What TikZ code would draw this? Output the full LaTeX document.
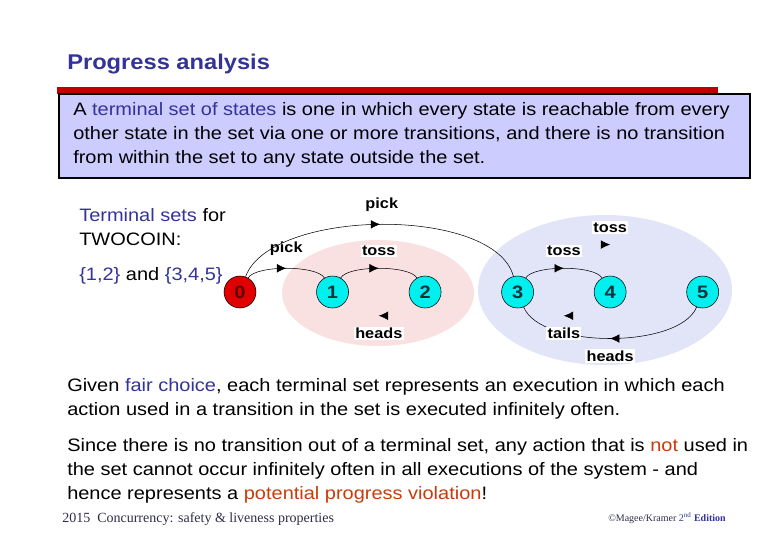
\documentclass[tikz,border=0pt]{standalone}
\usepackage{fontspec}
\setmainfont{Liberation Sans}[FakeStretch=1.11]
\newfontfamily\footfont{Liberation Serif}
\usetikzlibrary{arrows.meta,positioning,decorations.markings}

\definecolor{slideblue}{RGB}{51,51,153}
\definecolor{warnred}{RGB}{200,60,10}
\definecolor{barred}{RGB}{192,0,0}
\definecolor{boxlav}{RGB}{204,204,255}
\definecolor{setpink}{RGB}{249,225,225}
\definecolor{setblue}{RGB}{226,228,248}
\definecolor{statecyan}{RGB}{0,240,240}
\definecolor{statered}{RGB}{225,0,0}
\definecolor{footgrey}{RGB}{45,45,70}

\newcommand{\hlb}[1]{\textcolor{slideblue}{#1}}
\newcommand{\hlr}[1]{\textcolor{warnred}{#1}}

\begin{document}
\begin{tikzpicture}[x=0.75pt, y=-0.75pt, >=Latex,
  txt/.style={inner sep=0pt, align=left, font=\fontsize{13.5}{18}\selectfont},
  state/.style={draw, circle, minimum size=24pt, inner sep=0pt, fill=statecyan,
    text={rgb,255:red,0;green,50;blue,60}, font=\fontsize{13.5}{14}\selectfont\bfseries},
  lbl/.style={fill=white, inner sep=1pt, font=\fontsize{11}{12}\selectfont\bfseries},
  trans/.style={postaction={decorate}, decoration={markings,
    mark=at position 0.5 with {\arrow{Latex[length=7pt,width=6.5pt]}}}},
  faded/.style={trans, draw=none}]
  \useasboundingbox (0,0) rectangle (780,540);

  % heading and definition box
  \node[anchor=west, inner sep=0pt, text=slideblue, font=\fontsize{16}{18}\selectfont\bfseries]
    (title) at (67,64) {Progress analysis};
  \fill[barred] (57,87) rectangle (718,94);
  \draw[fill=boxlav, line width=1.1pt] (59,94) rectangle (750,178);
  \node[txt, anchor=west] (defn) at (73,135)
    {A \hlb{terminal set of states} is one in which every state is reachable from every\\
     other state in the set via one or more transitions, and there is no transition\\
     from within the set to any state outside the set.};

  % terminal sets of TWOCOIN
  \node[txt, anchor=west] (sets) at (79,227) {\hlb{Terminal sets} for\\TWOCOIN:};
  \node[txt, anchor=west] (setlist) at (79,276) {\hlb{\{1,2\}} and \hlb{\{3,4,5\}}};

  \fill[setpink] (378,293) ellipse [x radius=96, y radius=53];
  \fill[setblue] (605,290) ellipse [x radius=127, y radius=75];

  \node[state, fill=statered, text={rgb,255:red,90;green,0;blue,0}] (s0) at (240,292) {0};
  \node[state, right=45pt of s0] (s1) {1};
  \node[state, right=45pt of s1] (s2) {2};
  \node[state, right=45pt of s2] (s3) {3};
  \node[state, right=45pt of s3] (s4) {4};
  \node[state, right=45pt of s4] (s5) {5};

  \draw[trans] (s0) to[out=60, in=120, looseness=0.5] node[lbl, above=8pt] {pick} (s1);
  \draw[trans] (s0) to[out=70, in=105, looseness=0.7] node[lbl, above=8pt] {pick} (s3);
  \draw[trans] (s1) to[out=60, in=120, looseness=0.5] node[lbl, above=8pt] {toss} (s2);
  \draw[faded] (s2) to[out=-120, in=-60, looseness=0.5] node[lbl, below=8pt] {heads} (s1);
  \draw[trans] (s3) to[out=60, in=120, looseness=0.5] node[lbl, above=8pt] {toss} (s4);
  \draw[faded] (s3) to[out=60, in=120, looseness=0.78] node[lbl, above=8pt] {toss} (s5);
  \draw[trans] (s5) to[out=-112, in=-68, looseness=0.67] node[lbl, below=8pt] {heads} (s3);
  \draw[faded] (s4) to[out=-120, in=-60, looseness=0.5] node[lbl, below=8pt] {tails} (s3);

  % consequences
  \node[txt, anchor=west] (fair) at (67,399)
    {Given \hlb{fair choice}, each terminal set represents an execution in which each\\
     action used in a transition in the set is executed infinitely often.};
  \node[txt, anchor=west] (since) at (67,471)
    {Since there is no transition out of a terminal set, any action that is \hlr{not} used in\\
     the set cannot occur infinitely often in all executions of the system - and\\
     hence represents a \hlr{potential progress violation}!};

  % footer
  \node[anchor=west, inner sep=0pt, text=footgrey, font=\footfont\fontsize{10.5}{12}\selectfont]
    (foot) at (62,519) {2015\ \ Concurrency: safety \& liveness properties};
  \node[anchor=west, inner sep=0pt, text=slideblue, font=\footfont\fontsize{7.5}{8}\selectfont]
    (credit) at (608,518) {\textcolor{footgrey}{©Magee/Kramer} 2\textsuperscript{nd} \textbf{Edition}};
\end{tikzpicture}
\end{document}
